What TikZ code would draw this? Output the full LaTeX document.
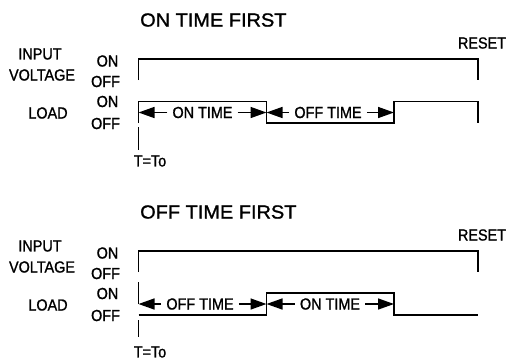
\documentclass[tikz,border=0pt]{standalone}
\usepackage{fontspec}
\setmainfont{Liberation Sans}
\newfontfamily\labfont{Liberation Sans}[FakeStretch=0.9,FakeBold=1.2]
\newfontfamily\titfont{Liberation Sans}[FakeStretch=1.05,FakeBold=1.2]
\usetikzlibrary{arrows.meta}
\begin{document}
\begin{tikzpicture}[x=1pt,y=-1pt,
  lab/.style={font=\labfont\fontsize{16}{16}\selectfont, inner sep=0pt},
  ttl/.style={font=\titfont\fontsize{19}{19}\selectfont, inner sep=0pt, anchor=west},
  sig/.style={line width=1.5pt, line join=miter},
  tlab/.style={lab, inner xsep=5pt},
  arr/.style={line width=1.5pt, -{Triangle[length=16pt,width=11pt]}}
]
\useasboundingbox[fill=white] (0,0) rectangle (506,360);

% ---------- ON TIME FIRST ----------
\node[ttl] (t1) at (140,20) {ON TIME FIRST};
\node[lab] (in1) at (40,54) {INPUT};
\node[lab] (vo1) at (42,75) {VOLTAGE};
\node[lab] (ion1) at (107.5,61) {ON};
\node[lab] (ioff1) at (105.5,81.5) {OFF};
\node[lab] (ld1) at (48,113) {LOAD};
\node[lab] (lon1) at (107.5,101.5) {ON};
\node[lab] (loff1) at (105.5,123.5) {OFF};
\node[lab] (rs1) at (482,43) {RESET};
\node[lab] (to1) at (150,161) {T=To};

\coordinate (a0) at (138.5,80);
\coordinate (a1) at (138.5,59);
\coordinate (a2) at (478,59);
\coordinate (a3) at (478,80);
\draw[sig] (a0) -- (a1) -- (a2) -- (a3);

\coordinate (l0) at (138.5,123);
\coordinate (l1) at (138.5,101.5);
\coordinate (l2) at (266.5,101.5);
\coordinate (l3) at (266.5,123);
\coordinate (l4) at (394,123);
\coordinate (l5) at (394,101.5);
\coordinate (l6) at (478,101.5);
\coordinate (l7) at (478,123);
\draw[sig] (l0) -- (l1) -- (l2) -- (l3) -- (l4) -- (l5) -- (l6) -- (l7);

\coordinate (m0) at (138.5,127);
\coordinate (m1) at (138.5,150);
\draw[sig] (m0) -- (m1);

\node[tlab] (on1) at (202.5,112.5) {ON TIME};
\node[tlab] (off1) at (328,112.5) {OFF TIME};
\draw[arr] (on1.west) -- (l1 |- on1);
\draw[arr] (on1.east) -- (l2 |- on1);
\draw[arr] (off1.west) -- (l2 |- off1);
\draw[arr] (off1.east) -- (l5 |- off1);

% ---------- OFF TIME FIRST ----------
\node[ttl] (t2) at (140,212) {OFF TIME FIRST};
\node[lab] (in2) at (40,246) {INPUT};
\node[lab] (vo2) at (42,267) {VOLTAGE};
\node[lab] (ion2) at (107.5,253) {ON};
\node[lab] (ioff2) at (105.5,273.5) {OFF};
\node[lab] (ld2) at (48,305) {LOAD};
\node[lab] (lon2) at (107.5,293.5) {ON};
\node[lab] (loff2) at (105.5,315.5) {OFF};
\node[lab] (rs2) at (482,235) {RESET};
\node[lab] (to2) at (150,352) {T=To};

\coordinate (b0) at (138.5,272);
\coordinate (b1) at (138.5,251);
\coordinate (b2) at (478,251);
\coordinate (b3) at (478,272);
\draw[sig] (b0) -- (b1) -- (b2) -- (b3);

\coordinate (k0) at (138.5,282);
\coordinate (k1) at (138.5,304);
\draw[sig] (k0) -- (k1);

\coordinate (p0) at (138.5,315);
\coordinate (p1) at (266.5,315);
\coordinate (p2) at (266.5,293);
\coordinate (p3) at (394,293);
\coordinate (p4) at (394,315);
\coordinate (p5) at (478,315);
\draw[sig] (p0) -- (p1) -- (p2) -- (p3) -- (p4) -- (p5);

\coordinate (n0) at (138.5,320);
\coordinate (n1) at (138.5,337);
\draw[sig] (n0) -- (n1);

\node[tlab] (off2) at (200,304) {OFF TIME};
\node[tlab] (on2) at (330,304) {ON TIME};
\draw[arr] (off2.west) -- (k1 |- off2);
\draw[arr] (off2.east) -- (p1 |- off2);
\draw[arr] (on2.west) -- (p1 |- on2);
\draw[arr] (on2.east) -- (p3 |- on2);
\end{tikzpicture}
\end{document}
